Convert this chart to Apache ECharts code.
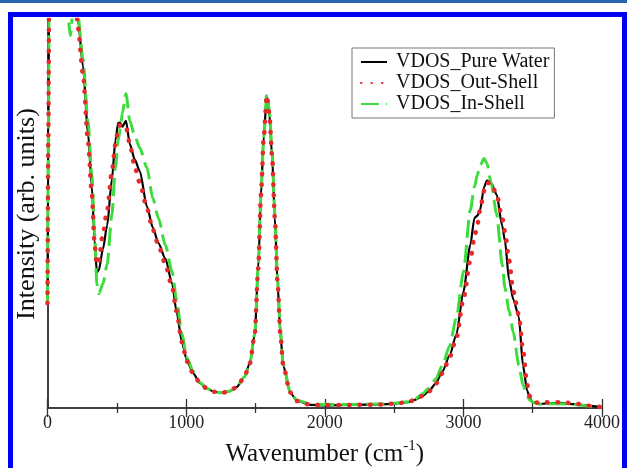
<!DOCTYPE html>
<html>
<head>
<meta charset="utf-8">
<script src="https://cdn.jsdelivr.net/npm/echarts@6/dist/echarts.min.js"></script>
<style>
  html, body { margin: 0; padding: 0; background: #fff; }
  #chart { width: 627px; height: 468px; }
</style>
</head>
<body>
<div id="chart"></div>
<script>
// wavenumber grid (cm^-1) shared by the three VDOS curves
const wavenumber = [0, 6, 15, 60, 120, 150, 165, 185, 205, 220, 256, 292, 320, 340, 356, 370, 400, 430, 465, 490,
  510, 525, 540, 566, 594, 630, 666, 717, 760, 800, 850, 900, 930, 970, 1005, 1050, 1100, 1150, 1200, 1257,
  1310, 1365, 1420, 1460, 1495, 1520, 1540, 1560, 1582, 1600, 1620, 1640, 1660, 1680, 1700, 1750, 1800, 1900,
  2000, 2200, 2400, 2500, 2600, 2650, 2700, 2750, 2800, 2850, 2900, 2950, 3000, 3050, 3080, 3100, 3120, 3150,
  3170, 3200, 3240, 3280, 3300, 3330, 3360, 3400, 3430, 3460, 3480, 3500, 3550, 3600, 3700, 3800, 3900, 4000];

const pureWater = [27, 70, 135, 150, 140, 125, 118, 110, 105, 100, 88, 71, 57, 43, 35, 35.5, 41, 47, 59, 69,
  73.5, 73.5, 72.5, 74, 68, 64, 61, 52, 46.5, 42.5, 38.5, 32, 25, 17, 12.3, 9, 6.4, 5, 4.2, 3.9,
  4.3, 5.4, 8, 11.6, 19, 36, 55, 70, 80.5, 76, 65, 49, 32, 19, 11, 4, 1.8, 0.8,
  0.7, 0.8, 0.9, 1.1, 1.5, 2.1, 3, 4.3, 6.3, 9.5, 13.5, 19, 30, 42, 49, 49.5, 51, 57,
  58.6, 58, 55, 47, 43, 33, 28, 23.5, 11, 4.5, 2.5, 1.5, 1, 1.2, 1.3, 1, 0.6, 0.2];

const outShell = [27, 70, 135, 150, 140, 125, 118, 110, 104, 98, 86, 69, 55, 42, 37, 38, 45, 51, 61, 68,
  72, 73, 73, 72.5, 68, 62, 58, 51.5, 46, 42, 37, 31, 25, 17, 12, 9, 6.4, 5, 4.2, 3.9,
  4.3, 5.4, 8, 11.6, 19, 36, 55, 70, 80.5, 76, 65, 49, 32, 19, 11, 4, 1.8, 0.8,
  0.8, 0.8, 0.9, 1.1, 1.5, 2.1, 3, 4.2, 6.2, 9, 13, 18, 28, 38, 44, 47, 51, 56,
  58, 58, 55, 49, 45.5, 38, 30, 24, 15, 6, 3, 1.8, 1.2, 1.5, 1.5, 1.2, 0.6, 0.2];

const inShell = [27, 70, 135, 150, 130, 100, 96, 103, 106, 101, 90, 74, 60, 45, 32, 29.5, 32, 37, 50, 62,
  69, 72, 76, 81, 74, 70, 67, 62, 54, 49, 42, 35, 28, 19, 13, 9.5, 6.6, 5, 4.2, 3.9,
  4.3, 5.4, 8, 11.6, 19, 36, 55, 70, 81, 77, 66, 50, 33, 20, 11.5, 4.2, 2, 1,
  0.9, 0.9, 1, 1.2, 1.6, 2.3, 3.5, 5, 7.5, 11, 16, 23.4, 35, 51, 57, 60, 62.5, 64.3,
  63, 58, 50, 37, 31, 25, 19.5, 11, 6, 3, 2, 1.5, 1, 1.1, 1.1, 0.9, 0.5, 0.2];

const seriesNames = ["VDOS_Pure Water", "VDOS_Out-Shell", "VDOS_In-Shell"];
const xTicks = [0, 1000, 2000, 3000, 4000];

const serif = "'Liberation Serif', 'Times New Roman', serif";
const pairs = (ys) => wavenumber.map((x, i) => [x, ys[i]]);

const chart = echarts.init(document.getElementById("chart"));

const option = {
  backgroundColor: "#fff",
  animation: false,
  graphic: [
    { type: "rect", shape: { x: 0, y: 0, width: 627, height: 3 }, style: { fill: "#2a64ae" }, silent: true },
    {
      type: "rect",
      shape: { x: 10.5, y: 14.5, width: 614, height: 480 },
      style: { fill: null, stroke: "#0000f0", lineWidth: 5 },
      silent: true,
    },
  ],
  legend: {
    left: 352,
    top: 48,
    orient: "vertical",
    data: seriesNames,
    itemWidth: 26,
    itemHeight: 14,
    itemGap: 1,
    padding: [4, 5, 4, 8],
    borderColor: "#777",
    borderWidth: 1,
    backgroundColor: "#fff",
    itemStyle: { opacity: 0 },
    textStyle: { fontFamily: serif, fontSize: 20, lineHeight: 20, color: "#111", padding: [0, 0, 0, 4] },
  },
  grid: { left: 47.5, right: 25, top: 20, bottom: 60, outerBoundsMode: "none" },
  xAxis: [
    {
      type: "value",
      min: 0,
      max: 4000,
      interval: 1000,
      position: "bottom",
      name: "Wavenumber (cm{sup|-1})",
      nameLocation: "middle",
      nameGap: 31,
      nameTextStyle: {
        fontFamily: serif,
        fontSize: 25,
        color: "#111",
        lineHeight: 30,
        rich: { sup: { fontFamily: serif, fontSize: 15, verticalAlign: "top", lineHeight: 30, color: "#111" } },
      },
      axisLine: { lineStyle: { color: "#333", width: 1.5 } },
      axisTick: { inside: true, length: 9, lineStyle: { color: "#333", width: 1.3 } },
      minorTick: { show: true, splitNumber: 2, length: 5, lineStyle: { color: "#333", width: 1.3 } },
      axisLabel: {
        fontFamily: serif,
        fontSize: 18,
        color: "#222",
        margin: 6,
        formatter: (v) => (xTicks.includes(v) ? String(v) : ""),
      },
      splitLine: { show: false },
    },
    {
      type: "value",
      min: 0,
      max: 4000,
      interval: 1000,
      position: "top",
      axisLine: { lineStyle: { color: "#333", width: 1.5 } },
      axisTick: { inside: true, length: 9, lineStyle: { color: "#333", width: 1.3 } },
      minorTick: { show: true, splitNumber: 2, length: 5, lineStyle: { color: "#333", width: 1.3 } },
      axisLabel: { show: false },
      splitLine: { show: false },
    },
  ],
  yAxis: [
    {
      type: "value",
      min: 0,
      max: 100,
      position: "left",
      name: "Intensity (arb. units)",
      nameLocation: "middle",
      nameGap: 7,
      nameTextStyle: { fontFamily: serif, fontSize: 26, color: "#111" },
      axisLine: { show: true, lineStyle: { color: "#333", width: 1.5 } },
      axisTick: { show: false },
      axisLabel: { show: false },
      splitLine: { show: false },
    },
    {
      type: "value",
      min: 0,
      max: 100,
      position: "right",
      axisLine: { show: true, lineStyle: { color: "#333", width: 1.5 } },
      axisTick: { show: false },
      axisLabel: { show: false },
      splitLine: { show: false },
    },
  ],
  series: [
    {
      name: seriesNames[0],
      type: "line",
      data: pairs(pureWater),
      symbol: "none",
      smooth: 0.25,
      smoothMonotone: "x",
      z: 2,
      color: "#000",
      lineStyle: { color: "#000", width: 2.2 },
    },
    {
      name: seriesNames[2],
      type: "line",
      data: pairs(inShell),
      symbol: "none",
      smooth: 0.25,
      smoothMonotone: "x",
      z: 3,
      color: "#3ddc3d",
      lineStyle: { color: "#3ddc3d", width: 3, type: [18, 7] },
    },
    {
      name: seriesNames[1],
      type: "line",
      data: pairs(outShell),
      symbol: "none",
      smooth: 0.25,
      smoothMonotone: "x",
      z: 4,
      color: "#e42a2a",
      lineStyle: { color: "#e42a2a", width: 4.5, type: [0.5, 10], cap: "round" },
    },
  ],
};

chart.setOption(option);
</script>
</body>
</html>
